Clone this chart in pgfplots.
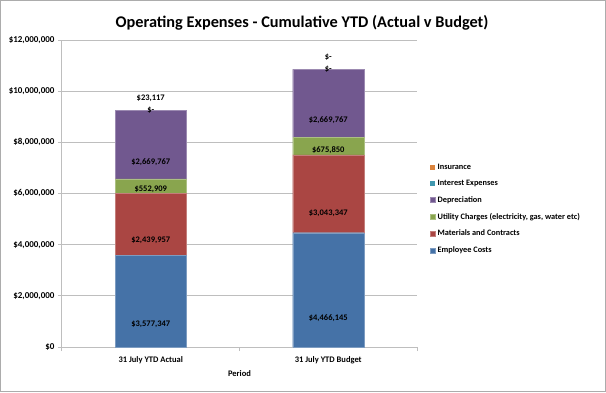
\documentclass[border=0pt]{standalone}
\usepackage{pgfplots}
\pgfplotsset{compat=1.18}
\usepackage{pgfplotstable}
\usepackage{fontspec}
\setmainfont{Carlito}
\definecolor{cEmp}{HTML}{4572A7}
\definecolor{cMat}{HTML}{AA4643}
\definecolor{cUti}{HTML}{89A54E}
\definecolor{cDep}{HTML}{71588F}
\definecolor{cInt}{HTML}{4198AF}
\definecolor{cIns}{HTML}{DB843D}
\definecolor{cGrid}{HTML}{BEBEBE}
\newcommand{\dash}{\$-}

\pgfplotstableread{
x y label
0 3577347 \$3,577,347
1 4466145 \$4,466,145
}\tEmp
\pgfplotstableread{
x y label
0 2439957 \$2,439,957
1 3043347 \$3,043,347
}\tMat
\pgfplotstableread{
x y label
0 552909 \$552,909
1 675850 \$675,850
}\tUti
\pgfplotstableread{
x y label
0 2669767 \$2,669,767
1 2669767 \$2,669,767
}\tDep
\pgfplotstableread{
x y label
0 0 \dash
1 0 \dash
}\tInt
\pgfplotstableread{
x y label
0 23117 \$23,117
1 0 \dash
}\tIns

\begin{document}
\begin{tikzpicture}
\draw[gray!65, line width=1pt] (0.5pt,0.5pt) rectangle (605.5pt,391.5pt);
\node[font=\fontsize{16.3}{18}\selectfont\bfseries] at (302pt,369pt) {Operating Expenses - Cumulative YTD (Actual v Budget)};
\begin{axis}[
  at={(62pt,45pt)}, anchor=south west,
  width=355pt, height=307pt, scale only axis,
  ybar stacked, bar width=0.4,
  stacked ignores zero=false,
  xmin=-0.5, xmax=1.5, ymin=0, ymax=12000000,
  scaled y ticks=false,
  axis x line*=bottom, axis y line*=left,
  axis line style={cGrid, line width=1pt, -},
  ymajorgrids, grid style={cGrid, line width=1pt},
  ytick={0,2000000,4000000,6000000,8000000,10000000,12000000},
  yticklabels={{\$0},{\$2,000,000},{\$4,000,000},{\$6,000,000},{\$8,000,000},{\$10,000,000},{\$12,000,000}},
  xtick={-0.5,0.5,1.5}, xticklabels={},
  extra x ticks={0,1},
  extra x tick labels={31 July YTD Actual, 31 July YTD Budget},
  extra x tick style={major tick length=0pt, xticklabel style={yshift=-6pt}},
  tick align=outside, major tick length=4pt,
  tick style={cGrid, line width=1pt},
  ticklabel style={font=\fontsize{9}{10}\selectfont\bfseries},
  xticklabel style={font=\fontsize{8.5}{10}\selectfont\bfseries},
  xlabel={Period},
  xlabel style={font=\fontsize{8.5}{10}\selectfont\bfseries, yshift=4pt},
  point meta=explicit symbolic,
  nodes near coords,
  visualization depends on={\thisrow{y}/4 \as \halfy},
  every node near coord/.append style={anchor=center, inner sep=0pt,
     font=\fontsize{8.5}{10}\selectfont\bfseries, black,
     shift={(axis direction cs:0,-\halfy)}},
  legend image code/.code={\fill[#1] (0pt,-2.5pt) rectangle (5pt,2.5pt);},
  reverse legend,
  legend cell align=left,
  legend style={draw=none, fill=none, at={(1,0.45)}, anchor=west, xshift=13pt,
     font=\fontsize{8.3}{9}\selectfont\bfseries, row sep=5.4pt, inner sep=0pt},
]
\addplot[fill=cEmp, draw=cEmp!70!white] table[x=x,y=y,meta=label]{\tEmp};
\addlegendentry{Employee Costs}
\addplot[fill=cMat, draw=cMat!70!white] table[x=x,y=y,meta=label]{\tMat};
\addlegendentry{Materials and Contracts}
\addplot[fill=cUti, draw=cUti!70!white] table[x=x,y=y,meta=label]{\tUti};
\addlegendentry{Utility Charges (electricity, gas, water etc)}
\addplot[fill=cDep, draw=cDep!70!white] table[x=x,y=y,meta=label]{\tDep};
\addlegendentry{Depreciation}
\addplot[fill=cInt, draw=none] table[x=x,y=y,meta=label]{\tInt};
\addlegendentry{Interest Expenses}
\addplot[fill=cIns, draw=none, every node near coord/.append style={yshift=12pt}] table[x=x,y=y,meta=label]{\tIns};
\addlegendentry{Insurance}
\end{axis}
\end{tikzpicture}
\end{document}
